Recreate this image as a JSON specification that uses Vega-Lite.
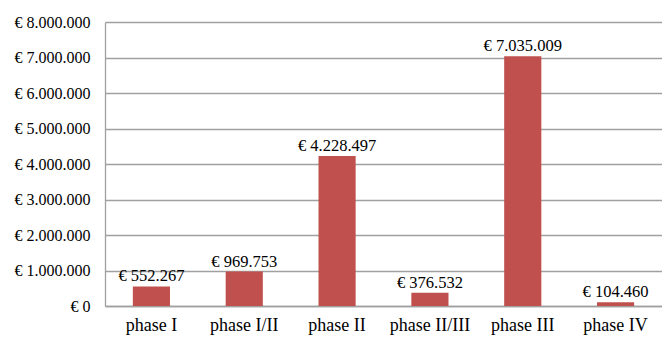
{
  "$schema": "https://vega.github.io/schema/vega-lite/v6.json",
  "width": 557,
  "height": 284,
  "autosize": {"type": "none"},
  "padding": {"left": 105, "top": 22, "right": 0, "bottom": 32},
  "background": "white",
  "config": {
    "view": {"stroke": null},
    "font": "Liberation Serif"
  },
  "data": {
    "values": [
      {"phase": "phase I", "value": 552267, "label": "€ 552.267"},
      {"phase": "phase I/II", "value": 969753, "label": "€ 969.753"},
      {"phase": "phase II", "value": 4228497, "label": "€ 4.228.497"},
      {"phase": "phase II/III", "value": 376532, "label": "€ 376.532"},
      {"phase": "phase III", "value": 7035009, "label": "€ 7.035.009"},
      {"phase": "phase IV", "value": 104460, "label": "€ 104.460"}
    ]
  },
  "encoding": {
    "x": {
      "field": "phase", "type": "nominal", "sort": null,
      "scale": {"paddingInner": 0.6, "paddingOuter": 0.3},
      "axis": {"title": null, "labelAngle": 0, "labelFont": "Liberation Serif", "labelFontSize": 18, "labelColor": "black", "labelPadding": 10, "ticks": false, "domainColor": "#a0a0a0", "domainWidth": 1.3, "labelOverlap": false}
    },
    "y": {
      "field": "value", "type": "quantitative",
      "scale": {"domain": [0, 8000000]},
      "axis": {"title": null, "values": [0,1000000,2000000,3000000,4000000,5000000,6000000,7000000,8000000],
        "labelExpr": "'€ ' + replace(format(datum.value, ',d'), /,/g, '.')",
        "labelOverlap": false,
        "labelFont": "Liberation Serif", "labelFontSize": 16, "labelColor": "black", "labelPadding": 15, "ticks": false,
        "domainColor": "#a0a0a0", "domainWidth": 1.3, "gridColor": "#a0a0a0", "gridWidth": 1.3}
    }
  },
  "layer": [
    {"mark": {"type": "bar", "color": "#C0504D"}},
    {"mark": {"type": "text", "baseline": "alphabetic", "dy": -5, "font": "Liberation Serif", "fontSize": 16.5, "color": "black"},
     "encoding": {"text": {"field": "label"}}}
  ]
}
